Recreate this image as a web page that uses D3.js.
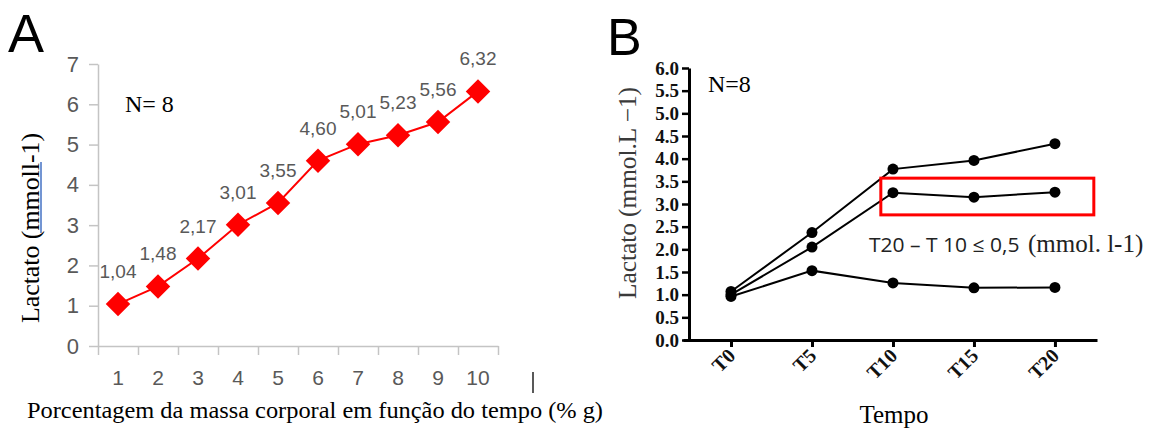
<!DOCTYPE html>
<html>
<head>
<meta charset="utf-8">
<script src="https://cdn.jsdelivr.net/npm/d3@7"></script>
<style>
  html, body { margin: 0; padding: 0; background: #fff; }
  svg { display: block; }
</style>
</head>
<body>
<svg id="chart" width="1152" height="435"></svg>
<script>
// ── Panel A data ──
const catA    = ["1","2","3","4","5","6","7","8","9","10"];
const valA    = [1.04, 1.48, 2.17, 3.01, 3.55, 4.60, 5.01, 5.23, 5.56, 6.32];
const ticksA  = [0, 1, 2, 3, 4, 5, 6, 7];

// ── Panel B data ──
const timesB  = ["T0","T5","T10","T15","T20"];
const highB   = [1.07, 2.37, 3.77, 3.96, 4.33];
const midB    = [1.00, 2.05, 3.25, 3.15, 3.26];
const lowB    = [0.96, 1.53, 1.26, 1.15, 1.16];
const ticksB  = [0, 0.5, 1, 1.5, 2, 2.5, 3, 3.5, 4, 4.5, 5, 5.5, 6];

const SANS  = '"Liberation Sans", Arial, sans-serif';
const SERIF = '"Liberation Serif", "Times New Roman", Times, serif';
const RED   = "#ff0000";

const svg = d3.select("#chart");

// ═════════════ Panel A ═════════════
const gA = svg.append("g");

const xA  = d3.scaleBand().domain(catA).range([98, 498]);
const xAe = d3.scaleLinear().domain([0, catA.length]).range([98, 498]); // band edges
const yA  = d3.scaleLinear().domain([0, 7]).range([346, 64]);
const axGray = "#c4c4c4";

// y axis
const yAxA = gA.append("g").attr("transform", "translate(98,0)")
  .call(d3.axisLeft(yA).tickValues(ticksA).tickFormat(d3.format("d"))
    .tickSize(9).tickSizeOuter(0).tickPadding(10));
yAxA.select(".domain").attr("stroke", axGray).attr("stroke-width", 1.5);
yAxA.selectAll(".tick line").attr("stroke", axGray).attr("stroke-width", 1.5);
yAxA.selectAll(".tick text").attr("fill", "#595959")
  .attr("font-family", SANS).attr("font-size", 22);

// x axis: tick marks at band edges
const xEdgeAx = gA.append("g").attr("transform", "translate(0,346)")
  .call(d3.axisBottom(xAe).ticks(catA.length).tickSize(9).tickSizeOuter(0).tickFormat(""));
xEdgeAx.select(".domain").attr("stroke", axGray).attr("stroke-width", 1.5);
xEdgeAx.selectAll(".tick line").attr("stroke", axGray).attr("stroke-width", 1.5);

// x axis: labels at band centres
const xLabAx = gA.append("g").attr("transform", "translate(0,346)")
  .call(d3.axisBottom(xA).tickSize(0).tickPadding(24));
xLabAx.select(".domain").remove();
xLabAx.selectAll(".tick text").attr("fill", "#595959")
  .attr("font-family", SANS).attr("font-size", 21);

const cx = (d, i) => xA(catA[i]) + xA.bandwidth() / 2;

gA.append("path")
  .datum(valA)
  .attr("fill", "none")
  .attr("stroke", RED)
  .attr("stroke-width", 2)
  .attr("d", d3.line().x(cx).y(d => yA(d)));

gA.selectAll("path.diamond")
  .data(valA)
  .join("path")
  .attr("class", "diamond")
  .attr("fill", RED)
  .attr("d", d3.symbol(d3.symbolSquare, 300))
  .attr("transform", (d, i) => `translate(${cx(d, i)},${yA(d)}) rotate(45)`);

const fmtComma = d => d3.format(".2f")(d).replace(".", ",");
gA.selectAll("text.vlab")
  .data(valA)
  .join("text")
  .attr("class", "vlab")
  .attr("x", cx)
  .attr("y", d => yA(d) - 26)
  .attr("text-anchor", "middle")
  .attr("fill", "#595959")
  .attr("font-family", SANS).attr("font-size", 19)
  .text(fmtComma);

gA.append("text").attr("x", 125).attr("y", 112)
  .attr("font-family", SERIF).attr("font-size", 24)
  .text("N= 8");

// y title
gA.append("text")
  .attr("transform", "translate(39,228) rotate(-90)")
  .attr("text-anchor", "middle")
  .attr("textLength", 190).attr("lengthAdjust", "spacingAndGlyphs")
  .attr("font-family", SERIF).attr("font-size", 25)
  .text("Lactato (mmoll-1)");
// spell-check underline under "mmol"
gA.append("line").attr("x1", 41).attr("x2", 41).attr("y1", 162).attr("y2", 233)
  .attr("stroke", "#4472c4").attr("stroke-width", 1.5);

// x title
gA.append("text")
  .attr("x", 27).attr("y", 418)
  .attr("textLength", 576).attr("lengthAdjust", "spacingAndGlyphs")
  .attr("font-family", SERIF).attr("font-size", 24)
  .text("Porcentagem da massa corporal em função do tempo (% g)");

gA.append("line").attr("x1", 533).attr("x2", 533).attr("y1", 372).attr("y2", 393)
  .attr("stroke", "#222").attr("stroke-width", 1.5);

svg.append("text").attr("x", 8).attr("y", 52)
  .attr("font-family", SANS).attr("font-size", 54)
  .text("A");

// ═════════════ Panel B ═════════════
const gB = svg.append("g");

const xB = d3.scalePoint().domain(timesB).range([683, 1097]).padding(0.556).align(0.533);
const yB = d3.scaleLinear().domain([0, 6]).range([340, 68]);

const yAxB = gB.append("g").attr("transform", "translate(689,0)")
  .call(d3.axisLeft(yB).tickValues(ticksB).tickSize(7).tickSizeOuter(0).tickPadding(3)
    .tickFormat(d3.format(".1f")));
yAxB.select(".domain").attr("stroke", "#000").attr("stroke-width", 3);
yAxB.selectAll(".tick line").attr("stroke", "#000").attr("stroke-width", 2.5);
yAxB.selectAll(".tick text").attr("fill", "#111")
  .attr("font-family", SERIF).attr("font-size", 19).attr("font-weight", "bold");

const xAxB = gB.append("g").attr("transform", "translate(0,340)")
  .call(d3.axisBottom(xB).tickSize(7).tickSizeOuter(0));
xAxB.select(".domain").attr("stroke", "#000").attr("stroke-width", 3);
xAxB.selectAll(".tick line").attr("stroke", "#000").attr("stroke-width", 3);
xAxB.selectAll(".tick text")
  .attr("text-anchor", "end")
  .attr("dy", null).attr("y", null)
  .attr("transform", "translate(5,17) rotate(-45)")
  .attr("fill", "#111")
  .attr("font-family", SERIF).attr("font-size", 20).attr("font-weight", "bold");

const lineB = d3.line().x((d, i) => xB(timesB[i])).y(d => yB(d));
[lowB, midB, highB].forEach(s => {
  gB.append("path").datum(s)
    .attr("fill", "none").attr("stroke", "#000").attr("stroke-width", 2)
    .attr("d", lineB);
  gB.selectAll(null).data(s).join("circle")
    .attr("cx", (d, i) => xB(timesB[i]))
    .attr("cy", d => yB(d))
    .attr("r", 5.5)
    .attr("fill", "#000");
});

// highlight box around the plateau of the middle series
const stepB = xB.step();
gB.append("rect")
  .attr("x", xB("T10") - 0.15 * stepB)
  .attr("y", yB(3.57))
  .attr("width", xB("T20") + 0.48 * stepB - (xB("T10") - 0.15 * stepB))
  .attr("height", yB(2.76) - yB(3.57))
  .attr("fill", "none").attr("stroke", RED).attr("stroke-width", 3);

const ann = gB.append("text").attr("x", 869).attr("y", 252).attr("fill", "#222");
ann.append("tspan").attr("textLength", 156).attr("lengthAdjust", "spacingAndGlyphs")
  .attr("font-family", '"Open Sans", "Liberation Sans", sans-serif').attr("font-size", 20)
  .text("T20 \u2013 T 10 \u2264 0,5 ");
ann.append("tspan").attr("x", 1028)
  .attr("font-family", SERIF).attr("font-size", 25)
  .text("(mmol. l-1)");

gB.append("text").attr("x", 708).attr("y", 92)
  .attr("font-family", SERIF).attr("font-size", 24)
  .text("N=8");

gB.append("text")
  .attr("transform", "translate(636,193) rotate(-90)")
  .attr("text-anchor", "middle")
  .attr("textLength", 212).attr("lengthAdjust", "spacingAndGlyphs")
  .attr("fill", "#3a3a3a")
  .attr("font-family", SERIF).attr("font-size", 25)
  .text("Lactato (mmol.L \u22121)");

gB.append("text").attr("x", 894).attr("y", 423)
  .attr("text-anchor", "middle")
  .attr("font-family", SERIF).attr("font-size", 25)
  .text("Tempo");

svg.append("text").attr("x", 607).attr("y", 55)
  .attr("font-family", SANS).attr("font-size", 52)
  .text("B");
</script>
</body>
</html>
